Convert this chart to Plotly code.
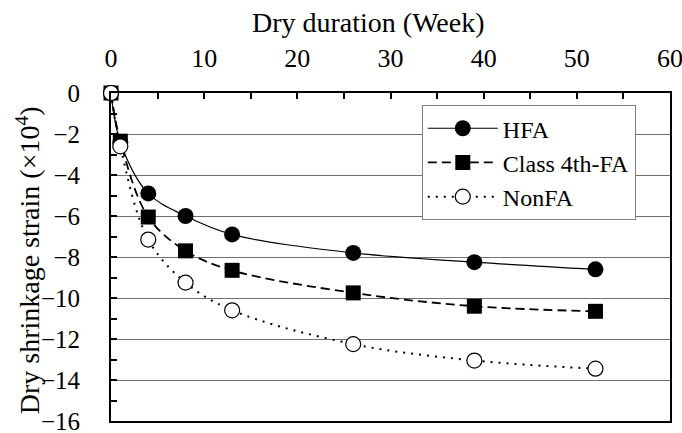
import plotly.graph_objects as go

weeks = [0, 1, 4, 8, 13, 26, 39, 52]
hfa = [0, -2.4, -4.9, -6.0, -6.9, -7.8, -8.25, -8.6]
class4 = [0, -2.35, -6.05, -7.7, -8.65, -9.75, -10.4, -10.65]
nonfa = [0, -2.6, -7.15, -9.25, -10.6, -12.25, -13.05, -13.45]

FONT = "Liberation Serif"

fig = go.Figure()
fig.add_trace(go.Scatter(
    x=weeks, y=hfa, name="HFA", mode="lines+markers",
    line=dict(color="black", width=1.2, shape="spline", smoothing=1),
    marker=dict(symbol="circle", size=16, color="black"),
    cliponaxis=False))
fig.add_trace(go.Scatter(
    x=weeks, y=class4, name="Class 4th-FA", mode="lines+markers",
    line=dict(color="black", width=1.8, dash="9px,5px", shape="spline", smoothing=1),
    marker=dict(symbol="square", size=15, color="black"),
    cliponaxis=False))
fig.add_trace(go.Scatter(
    x=weeks, y=nonfa, name="NonFA", mode="lines+markers",
    line=dict(color="black", width=2, dash="2px,6px", shape="spline", smoothing=1),
    marker=dict(symbol="circle", size=15, color="white", line=dict(color="black", width=1.2)),
    cliponaxis=False))

fig.update_layout(
    template="none",
    width=682, height=433,
    margin=dict(l=111, r=12, t=93, b=12, autoexpand=False),
    paper_bgcolor="white", plot_bgcolor="white",
    font=dict(family=FONT, size=26, color="black"),
    showlegend=True,
    legend=dict(
        x=0.556, y=0.963, xanchor="left", yanchor="top",
        bgcolor="white", bordercolor="#808080", borderwidth=1,
        font=dict(family=FONT, size=24, color="black"),
        itemwidth=70, tracegroupgap=0,
    ),
    xaxis=dict(
        side="top", range=[0, 60], dtick=10, tick0=0, automargin=False,
        ticklabeloverflow="allow",
        ticks="inside", ticklen=6, tickwidth=1.5, tickcolor="black",
        minor=dict(dtick=5, ticks="inside", ticklen=6, tickwidth=1.5, tickcolor="black"),
        showline=True, linecolor="black", linewidth=2, mirror=True,
        showgrid=False, zeroline=False,
        ticklabelstandoff=14,
        tickfont=dict(family=FONT, size=26),
    ),
    yaxis=dict(
        range=[-16, 0], dtick=2, tick0=0, automargin=False,
        ticklabeloverflow="allow",
        ticks="inside", ticklen=6, tickwidth=1.5, tickcolor="black",
        minor=dict(dtick=1, ticks="inside", ticklen=6, tickwidth=1.5, tickcolor="black", showgrid=False),
        showline=True, linecolor="black", linewidth=2, mirror=True,
        showgrid=True, gridcolor="#707070", gridwidth=1, zeroline=False,
        ticklabelstandoff=24,
        tickfont=dict(family=FONT, size=25),
    ),
    annotations=[
        dict(text="Dry duration (Week)", xref="paper", yref="paper",
             x=0.461, y=1.0, yshift=71, xanchor="center", yanchor="middle",
             showarrow=False, font=dict(family=FONT, size=28)),
        dict(text="Dry shrinkage strain (×10<sup>4</sup>)", xref="paper", yref="paper",
             x=0.0, xshift=-83, y=0.49, xanchor="center", yanchor="middle", textangle=-90,
             showarrow=False, font=dict(family=FONT, size=28)),
    ],
)

fig.write_html("out.html")
